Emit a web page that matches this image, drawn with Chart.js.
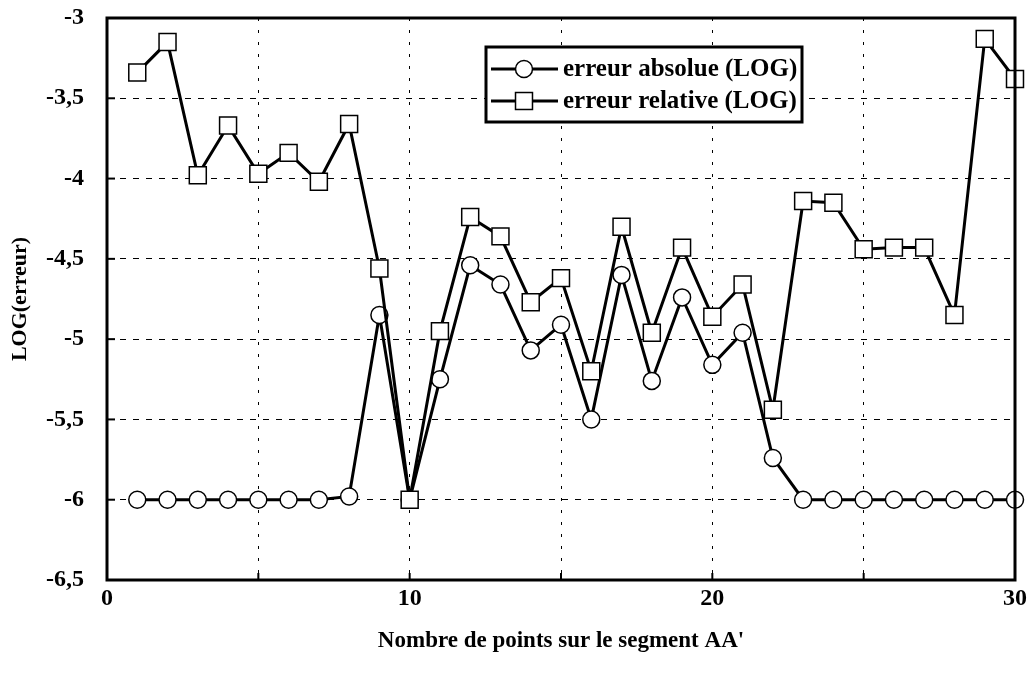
<!DOCTYPE html>
<html>
<head>
<meta charset="utf-8">
<script src="https://cdn.jsdelivr.net/npm/chart.js@4/dist/chart.umd.min.js"></script>
<style>
  html, body { margin: 0; padding: 0; background: #fff; }
  canvas { display: block; }
</style>
</head>
<body>
<canvas id="errChart" width="1033" height="679"></canvas>
<script>
// Données
const nbPoints = [1, 2, 3, 4, 5, 6, 7, 8, 9, 10, 11, 12, 13, 14, 15, 16, 17, 18, 19, 20, 21, 22, 23, 24, 25, 26, 27, 28, 29, 30];
const erreurAbsolue = [-6, -6, -6, -6, -6, -6, -6, -5.98, -4.85, -6, -5.25, -4.54, -4.66, -5.07, -4.91, -5.5, -4.6, -5.26, -4.74, -5.16, -4.96, -5.74, -6, -6, -6, -6, -6, -6, -6, -6];
const erreurRelative = [-3.34, -3.15, -3.98, -3.67, -3.97, -3.84, -4.02, -3.66, -4.56, -6, -4.95, -4.24, -4.36, -4.77, -4.62, -5.2, -4.3, -4.96, -4.43, -4.86, -4.66, -5.44, -4.14, -4.15, -4.44, -4.43, -4.43, -4.85, -3.13, -3.38];
const xLabels = [0, 10, 20, 30];
const seriesNames = ['erreur absolue (LOG)', 'erreur relative (LOG)'];

const serif = "'Liberation Serif', 'Times New Roman', serif";

function toXY(values) {
    return nbPoints.map((x, i) => ({ x: x, y: values[i] }));
}

// Cadre, petites graduations intérieures et légende dans le graphique
const framePlugin = {
    id: 'frame',
    afterDraw(chart) {
        const { ctx, chartArea: a, scales } = chart;
        ctx.save();
        ctx.strokeStyle = '#000';
        ctx.lineWidth = 2;
        scales.y.ticks.forEach(t => {
            const py = scales.y.getPixelForValue(t.value);
            ctx.beginPath();
            ctx.moveTo(a.left, py);
            ctx.lineTo(a.left + 8, py);
            ctx.stroke();
        });
        scales.x.ticks.forEach(t => {
            const px = scales.x.getPixelForValue(t.value);
            ctx.beginPath();
            ctx.moveTo(px, a.bottom);
            ctx.lineTo(px, a.bottom - 7);
            ctx.stroke();
        });
        ctx.lineWidth = 3;
        ctx.strokeRect(a.left, a.top, a.right - a.left, a.bottom - a.top);

        // Légende
        const box = { x: 486, y: 47, w: 316, h: 75 };
        ctx.fillStyle = '#fff';
        ctx.fillRect(box.x, box.y, box.w, box.h);
        ctx.lineWidth = 3;
        ctx.strokeRect(box.x, box.y, box.w, box.h);
        const rows = [69, 101];
        chart.data.datasets.slice().sort((p, q) => p.legendIndex - q.legendIndex).forEach((ds, i) => {
            const ry = rows[i];
            ctx.lineWidth = 3;
            ctx.strokeStyle = '#000';
            ctx.beginPath();
            ctx.moveTo(491, ry);
            ctx.lineTo(558, ry);
            ctx.stroke();
            ctx.fillStyle = '#fff';
            ctx.lineWidth = 1.5;
            if (ds.pointStyle === 'circle') {
                ctx.beginPath();
                ctx.arc(524, ry, ds.pointRadius, 0, Math.PI * 2);
                ctx.fill();
                ctx.stroke();
            } else {
                const s = ds.pointRadius * Math.SQRT1_2;
                ctx.fillRect(524 - s, ry - s, 2 * s, 2 * s);
                ctx.strokeRect(524 - s, ry - s, 2 * s, 2 * s);
            }
            ctx.fillStyle = '#000';
            ctx.font = 'bold 25px ' + serif;
            ctx.textAlign = 'left';
            ctx.textBaseline = 'middle';
            ctx.fillText(ds.label, 563, ry + 1);
        });
        ctx.restore();
    }
};

const ctx = document.getElementById('errChart').getContext('2d');
const errChart = new Chart(ctx, {
    type: 'line',
    data: {
        datasets: [
            {
                label: seriesNames[1],
                legendIndex: 1,
                order: 0,
                data: toXY(erreurRelative),
                borderColor: '#000',
                borderWidth: 3,
                pointStyle: 'rect',
                pointRadius: 12,
                pointBorderWidth: 1.5,
                pointBackgroundColor: '#fff',
                pointBorderColor: '#000',
                clip: false
            },
            {
                label: seriesNames[0],
                legendIndex: 0,
                order: 1,
                data: toXY(erreurAbsolue),
                borderColor: '#000',
                borderWidth: 3,
                pointStyle: 'circle',
                pointRadius: 8.5,
                pointBorderWidth: 1.5,
                pointBackgroundColor: '#fff',
                pointBorderColor: '#000',
                clip: false
            }
        ]
    },
    options: {
        responsive: false,
        animation: false,
        layout: { padding: { left: 0, right: 18, top: 18, bottom: 0 } },
        plugins: {
            legend: { display: false },
            tooltip: { enabled: false }
        },
        scales: {
            x: {
                type: 'linear',
                min: 0,
                max: 30,
                afterFit(s) {
                    s.height = 99;
                    s.paddingLeft = 0;
                    s.paddingRight = 0;
                },
                ticks: {
                    stepSize: 5,
                    padding: 4,
                    color: '#000',
                    font: { family: serif, size: 24, weight: 'bold' },
                    callback: v => xLabels.includes(v) ? String(v) : ''
                },
                grid: { color: '#000', lineWidth: 1, drawTicks: false },
                border: { display: false, dash: [3, 9] },
                title: {
                    display: true,
                    text: "Nombre de points sur le segment AA'",
                    color: '#000',
                    font: { family: serif, size: 23, weight: 'bold' },
                    padding: { top: 0, bottom: 24 }
                }
            },
            y: {
                min: -6.5,
                max: -3,
                afterFit(s) {
                    s.width = 107;
                    s.paddingTop = 0;
                    s.paddingBottom = 0;
                },
                ticks: {
                    stepSize: 0.5,
                    padding: 23,
                    color: '#000',
                    font: { family: serif, size: 24, weight: 'bold' },
                    callback: v => String(v).replace('.', ',')
                },
                grid: { color: '#000', lineWidth: 1, drawTicks: false },
                border: { display: false, dash: [6, 7] },
                title: {
                    display: true,
                    text: 'LOG(erreur)',
                    color: '#000',
                    font: { family: serif, size: 22, weight: 'bold' },
                    padding: { top: 7, bottom: 0 }
                }
            }
        }
    },
    plugins: [framePlugin]
});
</script>
</body>
</html>
